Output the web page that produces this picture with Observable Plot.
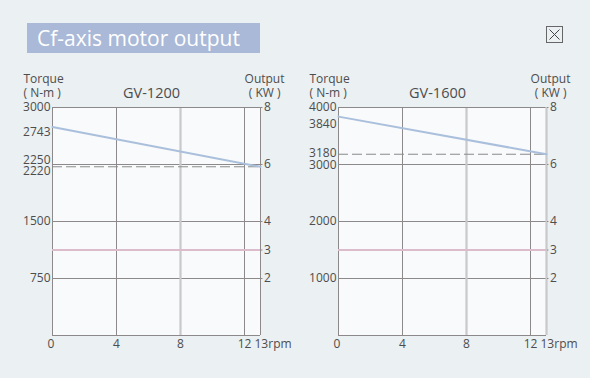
<!DOCTYPE html>
<html>
<head>
<meta charset="utf-8">
<script src="https://cdn.jsdelivr.net/npm/d3@7"></script>
<script src="https://cdn.jsdelivr.net/npm/@observablehq/plot@0.6"></script>
<style>
  html, body { margin: 0; padding: 0; background: #ebf0f2; }
  #wrap { position: relative; width: 590px; height: 378px; background: #ebf0f2; overflow: hidden; font-family: "Open Sans", sans-serif; }
  #title { position: absolute; left: 27px; top: 23px; width: 233px; height: 30px; background: #a9b9d7; color: #fff; font-size: 21px; line-height: 30px; padding-left: 10px; box-sizing: border-box; white-space: nowrap; }
  #close { position: absolute; left: 546px; top: 26px; }
  .chart { position: absolute; top: 60px; }
  #c1 { left: 0px; }
  #c2 { left: 286px; }
</style>
</head>
<body>
<div id="wrap">
  <div id="title">Cf-axis motor output</div>
  <svg id="close" width="18" height="18"><rect x="0.5" y="0.5" width="16" height="16" fill="none" stroke="#666"/><path d="M3.5 3.5L13.5 13.5M13.5 3.5L3.5 13.5" stroke="#444" stroke-width="1"/></svg>
  <div id="c1" class="chart"></div>
  <div id="c2" class="chart"></div>
</div>
<script>
// ---- data ----
const rpm = [0, 13];
const xTicks = [4, 8, 12];
const outputTicksKW = [8, 6, 4, 3, 2];
const outputMaxKW = 8;
const constantOutputKW = 3;

const model1200 = "GV-1200";
const torqueMax1200 = 3000;
const torque1200 = [2743, 2220];
const rated1200 = 2220;
const grid1200 = [750, 1500, 2250];
const torqueTicks1200 = [3000, 1500, 750];
const startTick1200 = 2743;
const upperTick1200 = 2250;
const lowerTick1200 = 2220;

const model1600 = "GV-1600";
const torqueMax1600 = 4000;
const torque1600 = [3840, 3180];
const rated1600 = 3180;
const grid1600 = [1000, 2000, 3000];
const torqueTicks1600 = [4000, 2000, 1000];
const startTick1600 = 3840;
const upperTick1600 = 3180;
const lowerTick1600 = 3000;

const dark = "#8d898a";
const light = "#c9c9cb";
const textColor = "#4d4d4d";
const fs = 12;

function makeChart({model, tMax, torque, rated, grid, ticks, startTick, upperTick, lowerTick, startDy, upperDy, lowerDy, rightLight}) {
  const line = rpm.map((r, i) => ({rpm: r, torque: torque[i]}));
  const kwToT = k => k * tMax / outputMaxKW;
  const leftAxis = (t, dy) => Plot.axisY({anchor: "left", ticks: t, tickFormat: d => String(d), tickSize: 0, tickPadding: 2, dy, label: null, fill: textColor, fontSize: fs});
  const marks = [
    Plot.frame({fill: "#f8fafb", stroke: null}),
    Plot.ruleY(grid, {stroke: dark, strokeWidth: 1}),
    Plot.ruleX([4, 12], {stroke: dark, strokeWidth: 1}),
    Plot.ruleX([8], {stroke: light, strokeWidth: 2.2}),
    Plot.ruleY([tMax], {stroke: dark}),
    Plot.ruleY([0], {stroke: dark}),
    Plot.ruleX([0], {stroke: dark}),
    Plot.ruleX([13], rightLight ? {stroke: light, strokeWidth: 2.2} : {stroke: dark}),
    Plot.ruleY([rated], {stroke: "#8a8a8a", strokeDasharray: "10,4", strokeWidth: 1}),
    Plot.ruleY([kwToT(constantOutputKW)], {stroke: "#dcbccb", strokeWidth: 2}),
    Plot.line(line, {x: "rpm", y: "torque", stroke: "#a9bfdc", strokeWidth: 2}),
    leftAxis(ticks, 0),
    leftAxis([startTick], startDy),
    leftAxis([upperTick], upperDy),
    leftAxis([lowerTick], lowerDy),
    Plot.axisY({anchor: "right", ticks: outputTicksKW.map(kwToT), tickFormat: d => String(Math.round(d * outputMaxKW / tMax)), tickSize: 1.5, tickPadding: 2, label: null, fill: textColor, stroke: dark, fontSize: fs}),
    Plot.axisX({ticks: xTicks, tickSize: 0, tickPadding: 4, label: null, fill: textColor, fontSize: fs}),
    Plot.text(["0"], {frameAnchor: "bottom-left", dx: -5, dy: 9, lineAnchor: "middle", fill: textColor, fontSize: fs}),
    Plot.text(["13rpm"], {frameAnchor: "bottom-right", dx: -6, dy: 9, lineAnchor: "middle", textAnchor: "start", fill: textColor, fontSize: fs}),
    Plot.text(["Torque"], {frameAnchor: "top-left", dx: -29, dy: -25, lineAnchor: "bottom", textAnchor: "start", fill: textColor, fontSize: fs}),
    Plot.text(["( N-m )"], {frameAnchor: "top-left", dx: -29, dy: -11, lineAnchor: "bottom", textAnchor: "start", fill: textColor, fontSize: fs}),
    Plot.text(["Output"], {frameAnchor: "top-right", dx: 24, dy: -25, lineAnchor: "bottom", textAnchor: "end", fill: textColor, fontSize: fs}),
    Plot.text(["( KW )"], {frameAnchor: "top-right", dx: 20, dy: -11, lineAnchor: "bottom", textAnchor: "end", fill: textColor, fontSize: fs}),
    Plot.text([model], {frameAnchor: "top", dx: -5, dy: -10, lineAnchor: "bottom", fontSize: 14.5, fill: textColor})
  ];
  return Plot.plot({
    width: 300,
    height: 295,
    marginLeft: 52,
    marginRight: 40,
    marginTop: 47,
    marginBottom: 20,
    x: {domain: [0, 13]},
    y: {domain: [0, tMax]},
    style: {fontFamily: "'Open Sans', sans-serif", fontSize: "12px", background: "transparent", overflow: "visible", color: textColor},
    marks
  });
}

document.getElementById("c1").append(makeChart({
  model: model1200, tMax: torqueMax1200, torque: torque1200, rated: rated1200,
  grid: grid1200, ticks: torqueTicks1200, startTick: startTick1200, upperTick: upperTick1200, lowerTick: lowerTick1200,
  startDy: 5, upperDy: -4, lowerDy: 4.5, rightLight: false
}));
document.getElementById("c2").append(makeChart({
  model: model1600, tMax: torqueMax1600, torque: torque1600, rated: rated1600,
  grid: grid1600, ticks: torqueTicks1600, startTick: startTick1600, upperTick: upperTick1600, lowerTick: lowerTick1600,
  startDy: 8, upperDy: -1, lowerDy: 1, rightLight: true
}));
</script>
</body>
</html>
